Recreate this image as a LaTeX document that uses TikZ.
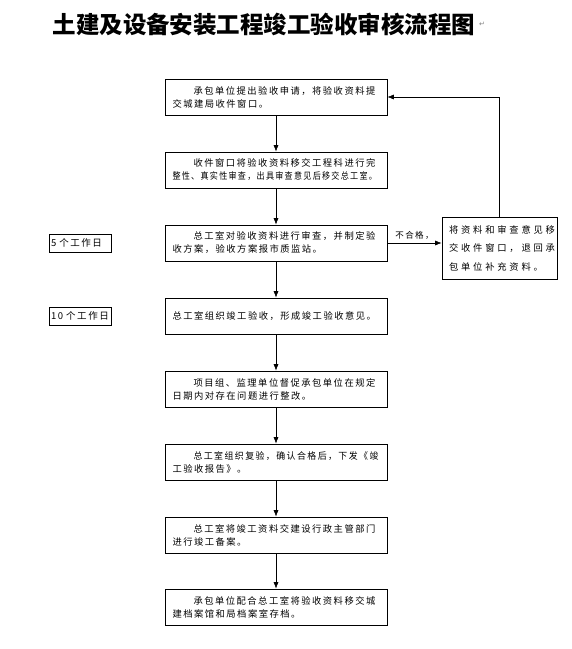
\documentclass[tikz,border=0pt]{standalone}
\usepackage{fontspec}
\usepackage{graphicx}
\usetikzlibrary{arrows.meta}
\newfontfamily\cjk{Noto Sans CJK SC}[LetterSpace=16]
\newfontfamily\cjkwide{Noto Sans CJK SC}[LetterSpace=30]
\newfontfamily\cjkhead{Noto Sans CJK SC}
\newfontfamily\symfont{DejaVu Sans}
\newcommand\firstind{\hspace*{21pt}}
\tikzset{stepbox/.style = {draw, semithick, minimum width=222pt, minimum height=36pt,
    text width=207pt, inner xsep=7pt, align=left, font=\cjk\fontsize{9.3}{13}\selectfont},
  backbox/.style = {draw, semithick, minimum width=115pt, minimum height=62pt,
    text width=101pt, inner xsep=7pt, align=left, font=\cjkwide\fontsize{9.3}{18.5}\selectfont},
  daybox/.style = {draw, semithick, minimum width=62pt, minimum height=18pt,
    text width=58pt, inner xsep=2pt, align=left, font=\cjk\fontsize{9.5}{10}\selectfont},
  flow/.style = {-{Latex[length=6.5pt,width=5pt]}, semithick}}
\begin{document}
\begin{tikzpicture}[x=1pt, y=-1pt]
  \useasboundingbox (0,0) rectangle (572,649);
  \node (title) at (264,24) {\cjkhead\bfseries\fontsize{23.5}{26}\selectfont 土建及设备安装工程竣工验收审核流程图};
  \node[right, inner sep=0pt, text=gray, font=\symfont\fontsize{7}{8}\selectfont] (pm) at (title.east) {↵};
  % main steps
  \node[stepbox] (s1) at (276,97) {\firstind 承包单位提出验收申请，将验收资料提\\交城建局收件窗口。};
  \node[stepbox] (s2) at (276,170) {\firstind 收件窗口将验收资料移交工程科进行完\\\scalebox{0.867}[1]{整性、真实性审查，出具审查意见后移交总工室。}};
  \node[stepbox] (s3) at (276,243) {\firstind 总工室对验收资料进行审查，并制定验\\收方案，验收方案报市质监站。};
  \node[stepbox] (s4) at (276,316) {总工室组织竣工验收，形成竣工验收意见。};
  \node[stepbox] (s5) at (276,389) {\firstind 项目组、监理单位督促承包单位在规定\\日期内对存在问题进行整改。};
  \node[stepbox] (s6) at (276,462) {\firstind \scalebox{0.96}[1]{总工室组织复验，确认合格后，下发《竣}\\工验收报告》。};
  \node[stepbox] (s7) at (276,535) {\firstind 总工室将竣工资料交建设行政主管部门\\进行竣工备案。};
  \node[stepbox] (s8) at (276,607) {\firstind 承包单位配合总工室将验收资料移交城\\建档案馆和局档案室存档。};
  % side boxes
  \node[backbox] (fb) at (499.5,248) {将资料和审查意见移\\交收件窗口，退回承\\包单位补充资料。};
  \node[daybox] (d5) at (80,243) {5 个工作日};
  \node[daybox] (d10) at (80,316) {10 个工作日};
  % connectors
  \foreach \a/\b in {s1/s2, s2/s3, s3/s4, s4/s5, s5/s6, s6/s7, s7/s8}
    \draw[flow] (\a) -- (\b);
  \draw[flow] (s3.east) -- node[above, font=\cjk\fontsize{8.5}{10}\selectfont] (ng) {不合格，} (fb.west |- s3.east);
  \draw[flow] (fb.north) |- (s1.east);
\end{tikzpicture}
\end{document}
